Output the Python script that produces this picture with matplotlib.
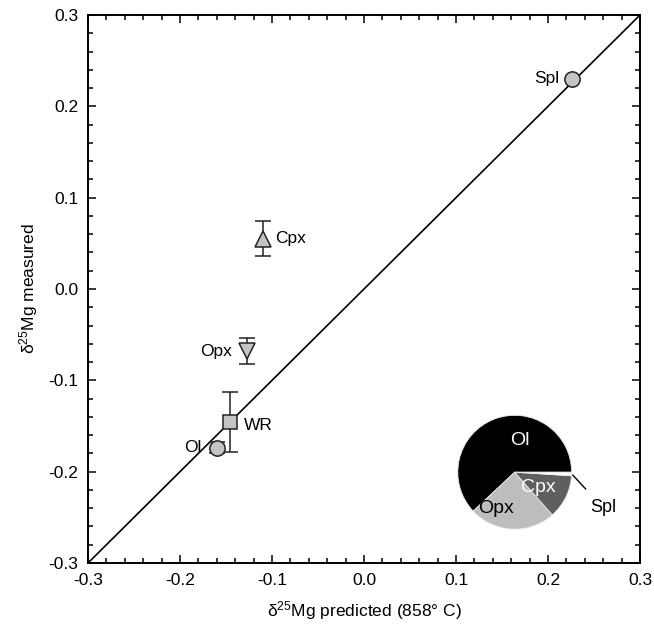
import matplotlib
matplotlib.use('Agg')
import matplotlib.pyplot as plt
import numpy as np
from matplotlib.ticker import MultipleLocator

plt.rcParams['font.family'] = ['Liberation Sans', 'DejaVu Sans']
plt.rcParams['mathtext.fontset'] = 'custom'
plt.rcParams['mathtext.rm'] = 'Liberation Sans'
plt.rcParams['mathtext.default'] = 'regular'

# mineral data: predicted vs measured d25Mg
minerals = ['Spl', 'Cpx', 'Opx', 'WR', 'Ol']
predicted = [0.226, -0.110, -0.127, -0.146, -0.160]
measured = [0.230, 0.055, -0.068, -0.146, -0.174]
errors = [0.0, 0.019, 0.014, 0.033, 0.006]
markers = ['o', '^', 'v', 's', 'o']

# modal proportions for the pie
pie_labels = ['Ol', 'Opx', 'Cpx', 'Spl']
pie_fracs = [0.62, 0.245, 0.125, 0.01]
pie_colors = ['#000000', '#bdbdbd', '#5f5f5f', '#ffffff']

fig = plt.figure(figsize=(6.54, 6.33), dpi=100)
ax = fig.add_axes([0.1346, 0.1106, 0.844, 0.8657])

ax.plot([-0.3, 0.3], [-0.3, 0.3], color='black', lw=1.2, zorder=1)

for i in range(len(minerals)):
    if errors[i] > 0:
        ax.errorbar(predicted[i], measured[i], yerr=errors[i], fmt='none',
                    ecolor='#222222', elinewidth=1.1, capsize=5.5, capthick=1.1, zorder=2)
    ax.plot(predicted[i], measured[i], marker=markers[i], ms=11 if markers[i] != 's' else 9.5,
            mfc='#c4c4c4', mec='#222222', mew=1.1, ls='none', zorder=3)

lbl_off = {'Spl': (-9, 0, 'right'), 'Cpx': (9, 0, 'left'), 'Opx': (-11, 0, 'right'),
           'WR': (10, -2, 'left'), 'Ol': (-11, 0, 'right')}
for i, m in enumerate(minerals):
    dx, dy, ha = lbl_off[m]
    ax.annotate(m, (predicted[i], measured[i]), xytext=(dx, dy), textcoords='offset points',
                ha=ha, va='center', fontsize=12.5)

ax.set_xlim(-0.3, 0.3)
ax.set_ylim(-0.3, 0.3)
ax.xaxis.set_major_locator(MultipleLocator(0.1))
ax.yaxis.set_major_locator(MultipleLocator(0.1))
ax.xaxis.set_minor_locator(MultipleLocator(0.02))
ax.yaxis.set_minor_locator(MultipleLocator(0.02))
ax.tick_params(which='both', direction='in', top=True, right=True, labelsize=12.5, width=1.1)
ax.tick_params(which='major', length=6, pad=7)
ax.tick_params(which='minor', length=3.5)
fmt = lambda v, p: '0.0' if abs(v) < 1e-9 else '%.1f' % v
ax.xaxis.set_major_formatter(plt.FuncFormatter(fmt))
ax.yaxis.set_major_formatter(plt.FuncFormatter(fmt))
for s in ax.spines.values():
    s.set_linewidth(1.4)

ax.set_xlabel(r'$\delta^{25}$Mg predicted (858° C)', fontsize=12.5, labelpad=8)
ax.set_ylabel(r'$\delta^{25}$Mg measured', fontsize=12.5, labelpad=6)

# inset pie
pax = fig.add_axes([0.700, 0.164, 0.174, 0.180])
wedges, _ = pax.pie(pie_fracs, colors=pie_colors, startangle=0, counterclock=True,
                    wedgeprops=dict(edgecolor='#e8e8e8', linewidth=0.6))
pax.set_xlim(-1, 1)
pax.set_ylim(-1, 1)
pax.set_aspect('equal')
pax.text(0.09, 0.56, 'Ol', color='white', ha='center', va='center', fontsize=14)
pax.text(-0.32, -0.63, 'Opx', color='black', ha='center', va='center', fontsize=14)
pax.text(0.42, -0.27, 'Cpx', color='white', ha='center', va='center', fontsize=14)
pax.annotate('Spl', xy=(1.02, -0.05), xytext=(1.55, -0.62), ha='center', va='center',
             fontsize=13, arrowprops=dict(arrowstyle='-', color='black', lw=1.0,
                                          shrinkA=7, shrinkB=0),
             annotation_clip=False)

fig.savefig('out.png', dpi=100)
